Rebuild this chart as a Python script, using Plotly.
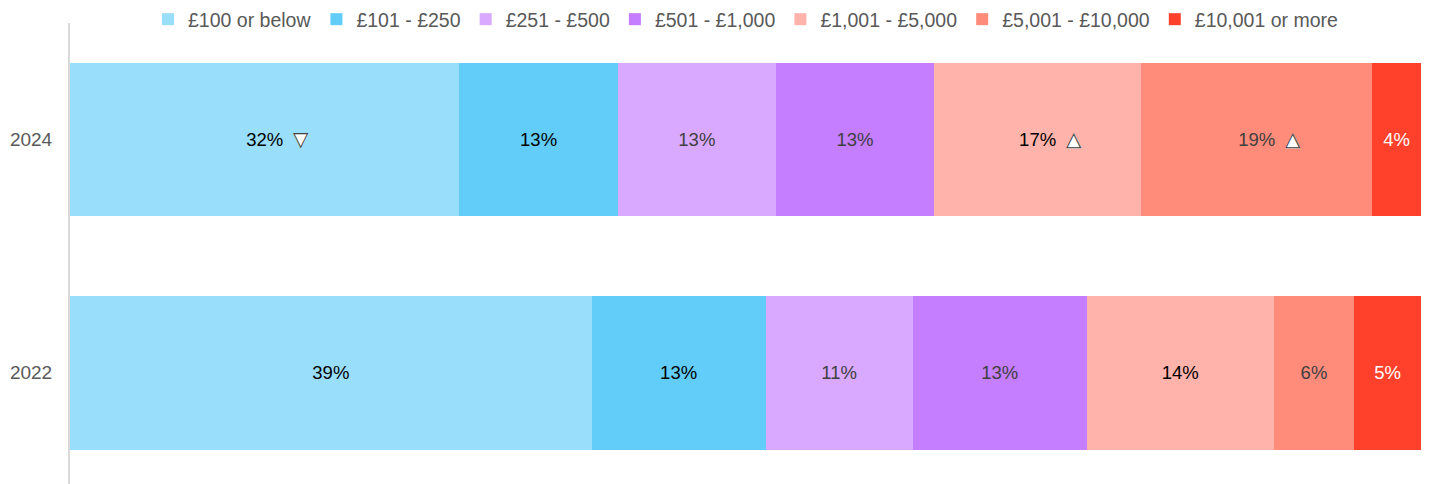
import plotly.graph_objects as go

# Survey years (bottom to top) and spend bands
years = ["2022", "2024"]
bands = ["£100 or below", "£101 - £250", "£251 - £500", "£501 - £1,000",
         "£1,001 - £5,000", "£5,001 - £10,000", "£10,001 or more"]

# Share of respondents in each band (%), one list per year
share_2022 = [39, 13, 11, 13, 14, 6, 5]
share_2024 = [32, 13, 13, 13, 17, 19, 4]

# Significant change vs 2022 for each band in 2024
change_2024 = ["down", None, None, None, "up", "up", None]

band_colors = ["#99DEFB", "#63CDFA", "#D9A9FF", "#C47EFF",
               "#FFB3AB", "#FF8B7B", "#FF412C"]
label_colors = ["#000000", "#000000", "#404040", "#404040",
                "#000000", "#404040", "#FFFFFF"]

FONT = "Liberation Sans, Arial, sans-serif"

fig = go.Figure()
for i, band in enumerate(bands):
    vals = [share_2022[i], share_2024[i]]
    fig.add_trace(go.Bar(
        y=years, x=vals, name=band, orientation="h",
        marker=dict(color=band_colors[i], line=dict(width=0)),
        text=[f"{v}%" for v in vals],
        textposition="inside", insidetextanchor="middle", textangle=0,
        constraintext="none",
        textfont=dict(family=FONT, size=18.5, color=label_colors[i]),
        hoverinfo="skip",
    ))

# Change markers placed beside the 2024 labels, at each segment's centre
row_2024 = years.index("2024")
total_2024 = sum(share_2024)
annotations = []
cum = 0.0
for v, ch in zip(share_2024, change_2024):
    mid = (cum + v / 2) / total_2024 * 100
    cum += v
    if ch is None:
        continue
    filled, outline = ("▼", "▽") if ch == "down" else ("▲", "△")
    for glyph, col in ((filled, "#FFFFFF"), (outline, "#404040")):
        annotations.append(dict(
            x=mid, y=row_2024, xref="x", yref="y", text=glyph, showarrow=False,
            xanchor="center", yanchor="middle", xshift=36, yshift=1,
            font=dict(family="DejaVu Sans", size=20, color=col),
        ))

fig.update_layout(
    width=1431, height=484,
    margin=dict(l=70, r=10, t=23, b=0, autoexpand=False),
    paper_bgcolor="white", plot_bgcolor="white",
    barmode="stack", barnorm="percent", bargap=0.34,
    font=dict(family=FONT, size=19, color="#595959"),
    showlegend=True,
    legend=dict(orientation="h", x=0.5, xanchor="center", xref="paper",
                y=1, yanchor="top", yref="container",
                font=dict(family=FONT, size=19.5, color="#595959"),
                traceorder="normal", itemwidth=30, bgcolor="rgba(0,0,0,0)"),
    xaxis=dict(range=[0, 100], visible=False, showgrid=False, zeroline=False),
    yaxis=dict(range=[-0.478, 1.5], showline=True, linecolor="#D9D9D9",
               linewidth=2, showgrid=False, zeroline=False, ticks="",
               ticklabelstandoff=12,
               tickfont=dict(family=FONT, size=19, color="#595959")),
    annotations=annotations,
)

fig.write_html("out.html")
